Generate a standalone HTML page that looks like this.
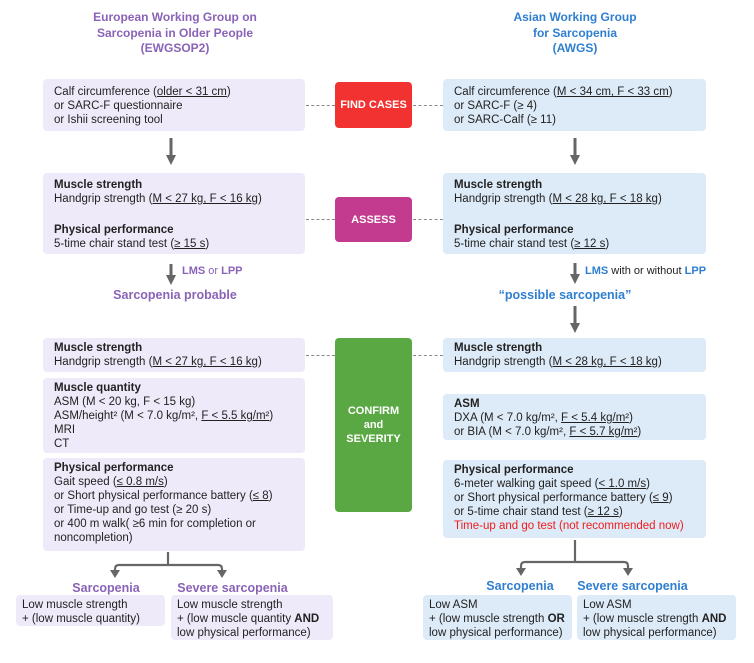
<!DOCTYPE html>
<html><head><meta charset="utf-8"><style>
body{margin:0;width:754px;height:663px;background:#fff;position:relative;font-family:"Liberation Sans",sans-serif;color:#222;overflow:hidden}
.a{position:absolute}
.bx{position:absolute;border-radius:4px;font-size:11.5px;line-height:14px;box-sizing:border-box;padding:5px 0 0 11px;white-space:nowrap}
.p{background:#efeaf9}.b{background:#ddeaf7}
.t{position:absolute;font-weight:bold;text-align:center;white-space:nowrap}
.pu{color:#8a63b8}.bl{color:#2f7fd0}
.tag{position:absolute;border-radius:4px;color:#fff;font-weight:bold;font-size:11px;display:flex;align-items:center;justify-content:center;text-align:center;line-height:14px}
u{text-decoration:underline}
b{font-weight:bold}
.d{position:absolute;border-top:1px dashed #888;height:0}
</style></head><body>
<div class="t pu" style="left:40px;width:270px;top:10px;font-size:12px;line-height:15.5px">European Working Group on<br>Sarcopenia in Older People<br>(EWGSOP2)</div>
<div class="t bl" style="left:440px;width:270px;top:10px;font-size:12px;line-height:15.5px">Asian Working Group<br>for Sarcopenia<br>(AWGS)</div>

<div class="bx p" style="left:43px;top:79px;width:262px;height:52px;padding-top:6px">Calf circumference (<u>older &lt; 31 cm</u>)<br>or SARC-F questionnaire<br>or Ishii screening tool</div>
<div class="bx b" style="left:443px;top:79px;width:263px;height:52px;padding-top:6px">Calf circumference (<u>M &lt; 34 cm, F &lt; 33 cm</u>)<br>or SARC-F (≥ 4)<br>or SARC-Calf (≥ 11)</div>
<div class="tag" style="left:335px;top:82px;width:77px;height:46px;background:#f23131">FIND CASES</div>
<div class="d" style="left:306px;top:105px;width:29px"></div><div class="d" style="left:413px;top:105px;width:30px"></div>

<div class="bx p" style="left:43px;top:173px;width:262px;height:81px"><b>Muscle strength</b><br>Handgrip strength (<u>M &lt; 27 kg, F &lt; 16 kg</u>)<br><div style="height:17px"></div><b>Physical performance</b><br>5-time chair stand test (<u>≥ 15 s</u>)</div>
<div class="bx b" style="left:443px;top:173px;width:263px;height:81px"><b>Muscle strength</b><br>Handgrip strength (<u>M &lt; 28 kg, F &lt; 18 kg</u>)<br><div style="height:17px"></div><b>Physical performance</b><br>5-time chair stand test (<u>≥ 12 s</u>)</div>
<div class="tag" style="left:335px;top:197px;width:77px;height:45px;background:#c23b8f">ASSESS</div>
<div class="d" style="left:306px;top:219px;width:29px"></div><div class="d" style="left:413px;top:219px;width:30px"></div>

<div class="t pu" style="left:182px;top:265px;font-size:11px">LMS <span style="font-weight:normal">or</span> LPP</div>
<div class="t pu" style="left:40px;width:270px;top:288px;font-size:12.5px">Sarcopenia probable</div>
<div class="t bl" style="left:585px;top:265px;font-size:11px">LMS <span style="font-weight:normal;color:#222">with or without</span> LPP</div>
<div class="t bl" style="left:430px;width:270px;top:288px;font-size:12.5px">“possible sarcopenia”</div>

<div class="bx p" style="left:43px;top:338px;width:262px;height:34px;padding-top:3px"><b>Muscle strength</b><br>Handgrip strength (<u>M &lt; 27 kg, F &lt; 16 kg</u>)</div>
<div class="bx p" style="left:43px;top:378px;width:262px;height:75px;padding-top:3px"><b>Muscle quantity</b><br>ASM (M &lt; 20 kg, F &lt; 15 kg)<br>ASM/height² (M &lt; 7.0 kg/m², <u>F &lt; 5.5 kg/m²</u>)<br>MRI<br>CT</div>
<div class="bx p" style="left:43px;top:458px;width:262px;height:93px;padding-top:3px"><b>Physical performance</b><br>Gait speed (<u>≤ 0.8 m/s</u>)<br>or Short physical performance battery (<u>≤ 8</u>)<br>or Time-up and go test (≥ 20 s)<br>or 400 m walk( ≥6 min for completion or<br>noncompletion)</div>
<div class="tag" style="left:335px;top:338px;width:77px;height:174px;background:#5aa843">CONFIRM<br>and<br>SEVERITY</div>
<div class="d" style="left:306px;top:355px;width:29px"></div><div class="d" style="left:413px;top:355px;width:30px"></div>
<div class="bx b" style="left:443px;top:338px;width:263px;height:34px;padding-top:3px"><b>Muscle strength</b><br>Handgrip strength (<u>M &lt; 28 kg, F &lt; 18 kg</u>)</div>
<div class="bx b" style="left:443px;top:394px;width:263px;height:46px;padding-top:3px"><b>ASM</b><br>DXA (M &lt; 7.0 kg/m², <u>F &lt; 5.4 kg/m²</u>)<br>or BIA (M &lt; 7.0 kg/m², <u>F &lt; 5.7 kg/m²</u>)</div>
<div class="bx b" style="left:443px;top:460px;width:263px;height:78px;padding-top:3px"><b>Physical performance</b><br>6-meter walking gait speed (<u>&lt; 1.0 m/s</u>)<br>or Short physical performance battery (<u>≤ 9</u>)<br>or 5-time chair stand test (<u>≥ 12 s</u>)<br><span style="color:#f01c1c">Time-up and go test (not recommended now)</span></div>

<div class="t pu" style="left:46px;width:120px;top:581px;font-size:12.5px">Sarcopenia</div>
<div class="t pu" style="left:170px;width:125px;top:581px;font-size:12.5px">Severe sarcopenia</div>
<div class="bx p" style="left:16px;top:595px;width:149px;height:31px;padding:3px 0 0 6px">Low muscle strength<br>+ (low muscle quantity)</div>
<div class="bx p" style="left:171px;top:595px;width:162px;height:45px;padding:3px 0 0 6px">Low muscle strength<br>+ (low muscle quantity <b>AND</b><br>low physical performance)</div>
<div class="t bl" style="left:460px;width:120px;top:579px;font-size:12.5px">Sarcopenia</div>
<div class="t bl" style="left:570px;width:125px;top:579px;font-size:12.5px">Severe sarcopenia</div>
<div class="bx b" style="left:423px;top:595px;width:149px;height:45px;padding:3px 0 0 6px">Low ASM<br>+ (low muscle strength <b>OR</b><br>low physical performance)</div>
<div class="bx b" style="left:577px;top:595px;width:159px;height:45px;padding:3px 0 0 6px">Low ASM<br>+ (low muscle strength <b>AND</b><br>low physical performance)</div>

<svg class="a" style="left:0;top:0" width="754" height="663">
<g stroke="#666" stroke-width="3" fill="none">
<line x1="171" y1="138" x2="171" y2="157"/>
<line x1="575" y1="138" x2="575" y2="157"/>
<line x1="171" y1="264" x2="171" y2="277"/>
<line x1="575" y1="263" x2="575" y2="276"/>
<line x1="575" y1="306" x2="575" y2="325"/>
</g>
<g fill="#666">
<path d="M166,155h10l-5,10z"/><path d="M570,155h10l-5,10z"/>
<path d="M166,275h10l-5,10z"/><path d="M570,274h10l-5,10z"/><path d="M570,323h10l-5,10z"/>
<path d="M110,570h10l-5,8z"/><path d="M217,570h10l-5,8z"/>
<path d="M516,568h10l-5,8z"/><path d="M623,568h10l-5,8z"/>
</g>
<g stroke="#666" stroke-width="2.2" fill="none">
<path d="M168,552V565"/><path d="M115,571V569q0,-4 4,-4H218q4,0 4,4V571"/>
<path d="M575,540V562"/><path d="M521,569V566q0,-4 4,-4H624q4,0 4,4V569"/>
</g>
</svg>
</body></html>
